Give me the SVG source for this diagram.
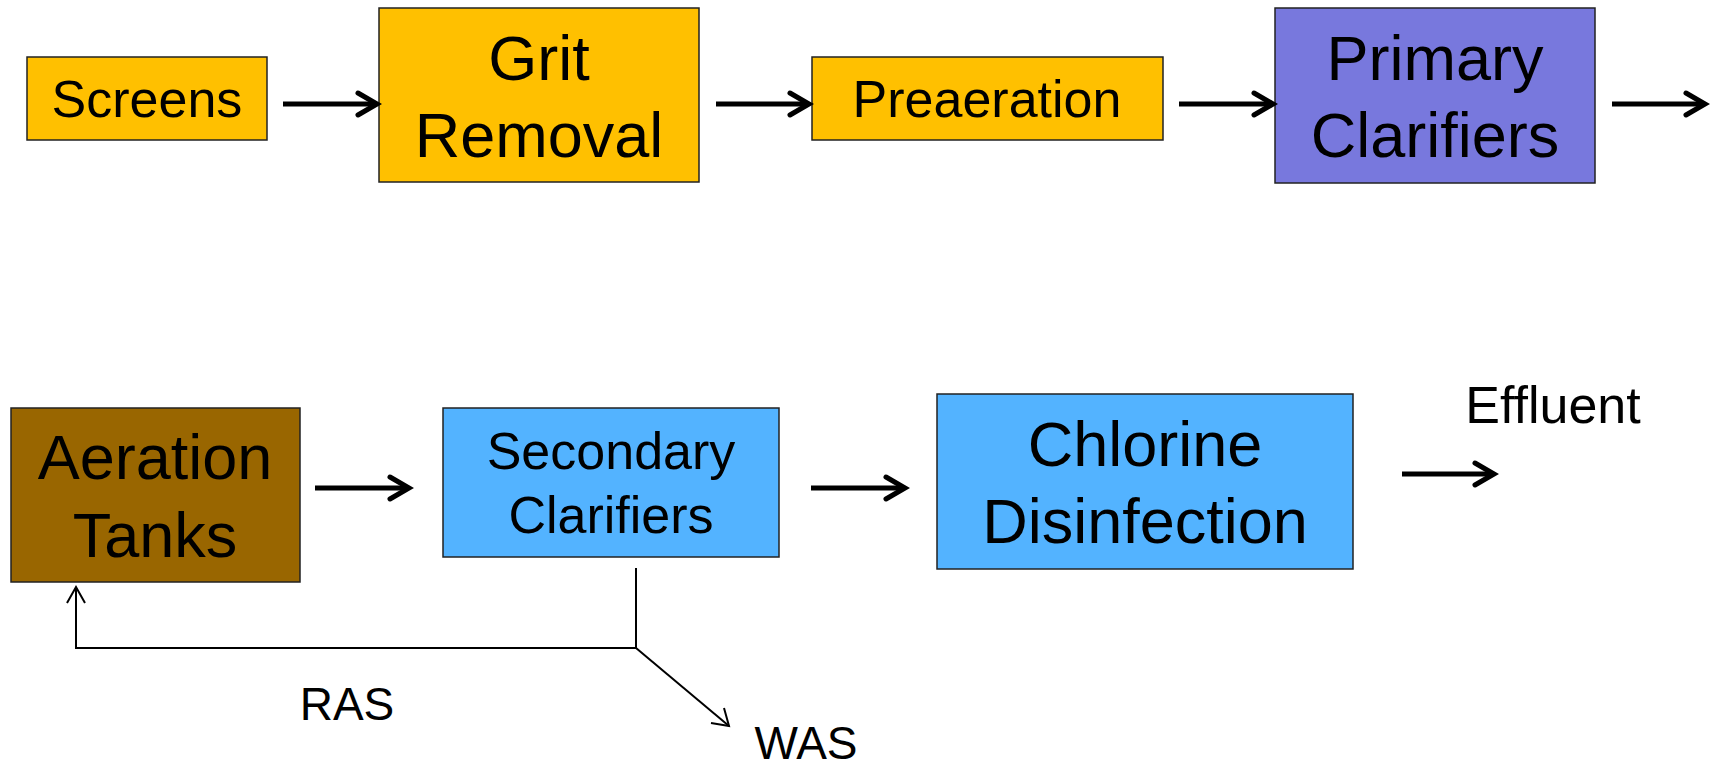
<svg xmlns="http://www.w3.org/2000/svg" width="1718" height="770" viewBox="0 0 1718 770">
<style>
.box{stroke:#222;stroke-width:1.5}
.t{font-family:"Liberation Sans",Arial,sans-serif;fill:#000;text-anchor:middle}
.s{font-size:52px}
.b{font-size:63px}
.l{font-size:46px}
.thick{stroke:#000;stroke-width:5;fill:none;stroke-linecap:butt}
.head{stroke:#000;stroke-width:5;fill:none;stroke-linecap:round;stroke-linejoin:miter}
.thin{stroke:#000;stroke-width:2;fill:none}
</style>
<rect width="1718" height="770" fill="#fff"/>
<g id="screens"><rect class="box" x="27" y="57" width="240" height="83" fill="#FFC000"/><text class="t s" x="147" y="117">Screens</text></g>
<g id="grit"><rect class="box" x="379" y="8" width="320" height="174" fill="#FFC000"/><text class="t b" x="539" y="80">Grit</text><text class="t b" x="539" y="157">Removal</text></g>
<g id="preaeration"><rect class="box" x="812" y="57" width="351" height="83" fill="#FFC000"/><text class="t s" x="987" y="117">Preaeration</text></g>
<g id="primary"><rect class="box" x="1275" y="8" width="320" height="175" fill="#7878DD"/><text class="t b" x="1435" y="80">Primary</text><text class="t b" x="1435" y="157">Clarifiers</text></g>
<g id="aeration"><rect class="box" x="11" y="408" width="289" height="174" fill="#996600"/><text class="t b" x="155" y="479">Aeration</text><text class="t b" x="155" y="557">Tanks</text></g>
<g id="secondary"><rect class="box" x="443" y="408" width="336" height="149" fill="#53B3FF"/><text class="t s" x="611" y="469">Secondary</text><text class="t s" x="611" y="533">Clarifiers</text></g>
<g id="chlorine"><rect class="box" x="937" y="394" width="416" height="175" fill="#53B3FF"/><text class="t b" x="1145" y="466">Chlorine</text><text class="t b" x="1145" y="543">Disinfection</text></g>
<g id="effluent"><text class="t s" x="1553" y="423">Effluent</text></g>
<g id="ras"><text class="t l" x="347" y="720">RAS</text></g>
<g id="was"><text class="t l" x="806" y="759">WAS</text></g>
<g id="connectors">
<line class="thick" x1="283" y1="104" x2="376" y2="104"/><polyline class="head" points="358,93 377,104 358,115"/>
<line class="thick" x1="716" y1="104" x2="808" y2="104"/><polyline class="head" points="790,93 809,104 790,115"/>
<line class="thick" x1="1179" y1="104" x2="1272" y2="104"/><polyline class="head" points="1254,93 1273,104 1254,115"/>
<line class="thick" x1="1612" y1="104" x2="1704" y2="104"/><polyline class="head" points="1686,93 1705,104 1686,115"/>
<line class="thick" x1="315" y1="488" x2="408" y2="488"/><polyline class="head" points="390,477 409,488 390,499"/>
<line class="thick" x1="811" y1="488" x2="904" y2="488"/><polyline class="head" points="886,477 905,488 886,499"/>
<line class="thick" x1="1402" y1="474" x2="1493" y2="474"/><polyline class="head" points="1475,463 1494,474 1475,485"/>
<polyline class="thin" points="636,568 636,648 76,648 76,587"/>
<polyline class="thin" points="67,603 76,587 85,603"/>
<line class="thin" x1="636" y1="648" x2="729" y2="726"/>
<polyline class="thin" points="724,708 729,726 711,723"/>
</g>
</svg>
